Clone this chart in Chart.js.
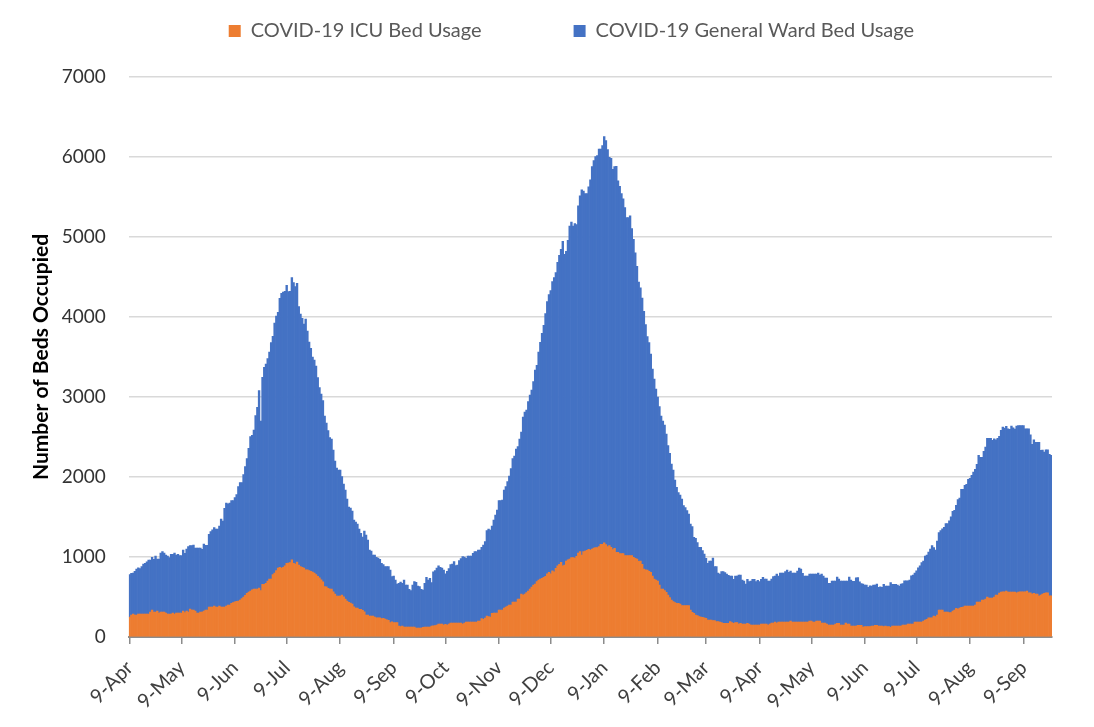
<!DOCTYPE html>
<html>
<head>
<meta charset="utf-8">
<script src="https://cdn.jsdelivr.net/npm/chart.js@4.4.1/dist/chart.umd.min.js"></script>
<style>html,body{margin:0;padding:0;background:#ffffff;}canvas{display:block;}</style>
</head>
<body>
<canvas id="c" width="1094" height="727"></canvas>
<script>
// Daily series starting 9-Apr-2020
const monthNames = ['Jan','Feb','Mar','Apr','May','Jun','Jul','Aug','Sep','Oct','Nov','Dec'];
const tickLabels = ['9-Apr','9-May','9-Jun','9-Jul','9-Aug','9-Sep','9-Oct','9-Nov','9-Dec','9-Jan','9-Feb','9-Mar'];
const yTickValues = [0,1000,2000,3000,4000,5000,6000,7000];

const icuBeds = [
250,275,287,275,275,287,287,287,287,287,
287,287,312,337,312,312,325,300,312,312,
312,300,287,287,287,300,287,300,300,300,
300,325,305,325,312,350,337,337,325,300,
300,312,312,325,337,337,375,375,375,387,
375,375,387,375,375,375,387,400,400,420,
430,440,445,450,460,480,500,520,545,560,
575,590,598,598,600,610,580,657,657,670,
700,724,724,780,800,830,860,870,860,870,
890,920,925,930,966,920,912,935,900,880,
870,860,841,841,830,820,810,800,780,757,
740,715,690,630,628,607,600,599,565,536,
511,511,511,524,503,474,449,432,424,412,
378,362,362,345,345,333,316,274,274,262,
262,262,249,241,241,241,229,233,224,216,
208,179,191,179,179,179,137,129,137,125,
125,125,125,125,125,125,112,112,112,112,
121,125,125,125,125,137,141,142,150,162,
162,162,150,158,150,162,175,175,175,175,
175,175,175,162,175,187,187,187,187,187,
187,187,200,200,229,221,237,262,254,250,
296,300,300,300,337,337,337,362,375,387,
400,400,437,437,437,475,475,537,525,537,
554,575,600,625,650,662,692,712,725,732,
745,757,791,808,791,828,816,858,891,908,
933,891,900,950,966,975,992,992,987,1008,
1050,1067,1025,1067,1075,1084,1096,1088,1100,1110,
1117,1117,1130,1159,1159,1176,1155,1130,1142,1121,
1092,1109,1059,1059,1042,1042,1042,1017,1017,1017,
1017,1017,996,983,975,946,950,908,849,841,
837,820,808,762,725,712,700,650,600,600,
580,558,525,492,462,442,429,421,421,412,
392,392,392,392,392,337,308,296,275,267,
254,250,246,240,233,212,212,212,204,204,
192,192,187,179,171,171,171,171,192,179,
171,179,179,162,171,162,162,162,171,162,
150,150,150,150,150,150,162,162,162,162,
150,162,175,175,187,175,187,187,187,187,
187,187,187,200,187,187,187,187,187,187,
187,187,187,187,200,200,187,187,200,200,
200,175,175,175,162,150,150,150,150,162,
171,171,150,150,150,175,162,162,137,137,
137,137,146,146,146,125,129,129,129,129,
137,137,146,146,137,137,137,129,137,129,
129,121,137,137,137,137,137,137,150,150,
150,162,162,162,162,187,187,187,187,187,
200,212,220,241,241,241,262,254,274,337,
337,337,312,312,312,304,304,324,337,358,
349,360,370,374,387,387,387,387,387,387,
399,437,437,437,462,462,474,499,486,486,
486,499,524,524,549,561,565,565,574,561,
561,561,561,561,553,561,565,565,565,565,
574,553,553,536,545,536,536,511,524,536,
545,553,553,516,516
];

const wardBeds = [
530,520,513,545,575,578,568,593,623,633,
653,675,650,658,658,700,650,675,738,755,
738,725,725,705,746,733,763,725,733,717,
717,762,741,775,817,792,805,813,787,812,
812,800,784,837,809,809,908,942,965,980,
975,975,1000,1100,1075,1233,1288,1265,1275,1284,
1274,1302,1334,1429,1469,1449,1529,1609,1684,1798,
1929,1931,1989,2169,2271,2469,2120,2589,2714,2742,
2779,2838,2955,2978,3125,3182,3198,3363,3436,3442,
3430,3476,3392,3390,3526,3509,3467,3485,3229,3157,
3113,3052,3134,2984,2857,2788,2690,2662,2607,2485,
2377,2322,2264,2130,2047,1972,1892,1876,1772,1664,
1599,1576,1576,1480,1409,1363,1276,1193,1188,1163,
1084,1075,1050,1005,951,917,1009,1001,938,825,
813,763,776,755,746,730,692,671,655,663,
671,658,563,583,533,483,534,558,534,587,
525,525,471,454,525,567,571,525,517,484,
466,546,621,587,608,542,675,687,710,728,
708,700,687,632,671,692,729,737,767,717,
725,779,805,842,825,796,825,825,825,859,
880,880,887,887,891,929,955,1068,1096,1087,
1091,1162,1225,1287,1367,1367,1375,1475,1504,1555,
1612,1704,1792,1825,1913,1904,2000,2025,2225,2275,
2283,2367,2425,2462,2542,2675,2704,2850,2957,3063,
3150,3285,3401,3472,3540,3616,3678,3698,3791,3862,
3912,4055,3882,3870,3992,4163,4196,4146,4180,4147,
4339,4448,4565,4506,4469,4460,4532,4627,4779,4844,
4887,4900,4970,4941,4983,5079,5050,4962,4854,4862,
4753,4770,4824,4644,4590,4502,4435,4351,4226,4226,
4247,4088,3975,3820,3657,3489,3414,3330,3222,3063,
2917,2859,2729,2588,2500,2388,2300,2229,2162,2100,
2070,1979,1867,1804,1700,1645,1533,1450,1383,1363,
1333,1250,1225,1187,1145,1075,1071,950,958,912,
867,871,833,797,750,709,738,738,783,675,
687,608,600,638,646,633,616,600,570,583,
550,583,583,613,604,550,538,500,550,530,
550,571,571,542,558,542,558,584,563,563,
550,538,550,579,575,612,575,613,613,613,
630,650,621,625,613,613,613,638,675,663,
609,575,575,575,587,587,600,600,587,600,
575,612,587,562,575,521,521,550,550,538,
579,554,550,550,550,525,538,588,575,559,
559,603,598,544,523,536,520,520,491,511,
499,512,503,515,483,491,483,528,499,507,
507,559,520,520,520,512,499,524,519,553,
553,541,549,603,611,613,640,678,703,744,
748,798,803,819,857,902,856,831,924,969,
993,1014,1060,1106,1106,1147,1197,1248,1247,1289,
1368,1375,1476,1472,1509,1522,1584,1596,1634,1675,
1697,1721,1833,1808,1783,1858,1900,1983,1996,1996,
1971,1979,1942,1958,1958,2021,2059,2046,2058,2042,
2034,2075,2054,2038,2083,2083,2079,2079,2079,2038,
2029,2050,1975,1871,1921,1896,1896,1921,1809,1801,
1767,1788,1788,1767,1754
];

const categories = icuBeds.map((_, i) => {
  const d = new Date(Date.UTC(2020, 3, 9 + i));
  return d.getUTCDate() + '-' + monthNames[d.getUTCMonth()];
});

const FONT = 'Lato, "Open Sans", sans-serif';

const legendSpacing = {
  id: 'legendSpacing',
  beforeInit(chart) {
    const origFit = chart.legend.fit;
    chart.legend.fit = function () {
      origFit.call(this);
      this.height = 72;
    };
  }
};

new Chart(document.getElementById('c'), {
  type: 'bar',
  data: {
    labels: categories,
    datasets: [
      { label: 'COVID-19 ICU Bed Usage', data: icuBeds, backgroundColor: '#ED7D31',
        borderWidth: 0, barPercentage: 1, categoryPercentage: 1 },
      { label: 'COVID-19 General Ward Bed Usage', data: wardBeds, backgroundColor: '#4472C4',
        borderWidth: 0, barPercentage: 1, categoryPercentage: 1 }
    ]
  },
  options: {
    responsive: false,
    animation: false,
    events: [],
    layout: { padding: { top: 5, right: 42, left: 0, bottom: 0 } },
    plugins: {
      tooltip: { enabled: false },
      legend: {
        position: 'top',
        fullSize: false,
        onClick: () => {},
        labels: {
          font: { family: FONT, size: 20 },
          color: '#595959',
          boxWidth: 12,
          boxHeight: 12,
          padding: 16,
          generateLabels: (chart) => {
            const base = Chart.defaults.plugins.legend.labels.generateLabels(chart);
            const spacer = () => ({ text: '', fillStyle: 'rgba(0,0,0,0)', strokeStyle: 'rgba(0,0,0,0)',
              lineWidth: 0, hidden: false, datasetIndex: -1 });
            return [base[0], spacer(), spacer(), base[1], spacer()];
          }
        }
      }
    },
    scales: {
      x: {
        stacked: true,
        offset: true,
        afterBuildTicks: (scale) => {
          scale.ticks = scale.ticks.filter(t => tickLabels.includes(categories[t.value]));
        },
        afterFit: (scale) => { scale.height = 90; },
        grid: { offset: false, drawOnChartArea: false, drawTicks: true, tickLength: 7,
          color: '#8c8c8c', lineWidth: 1.5 },
        border: { display: true, color: '#8c8c8c', width: 2 },
        ticks: { autoSkip: false, minRotation: 45, maxRotation: 45, padding: 12,
          font: { family: FONT, size: 20 }, color: '#404040' }
      },
      y: {
        stacked: true,
        min: 0,
        max: 7000,
        afterFit: (scale) => { scale.width = 128.8; },
        afterBuildTicks: (scale) => { scale.ticks = yTickValues.map(v => ({ value: v })); },
        grid: { color: '#d9d9d9', lineWidth: 1.5, drawTicks: false },
        border: { display: false },
        ticks: { stepSize: 1000, padding: 23, font: { family: FONT, size: 19 }, color: '#333333',
          callback: (v) => String(v) },
        title: { display: true, text: 'Number of Beds Occupied', color: '#000000',
          font: { family: FONT, size: 21, weight: 'bold' }, padding: { top: 29, bottom: 0 } }
      }
    }
  },
  plugins: [legendSpacing]
});
</script>
</body>
</html>
